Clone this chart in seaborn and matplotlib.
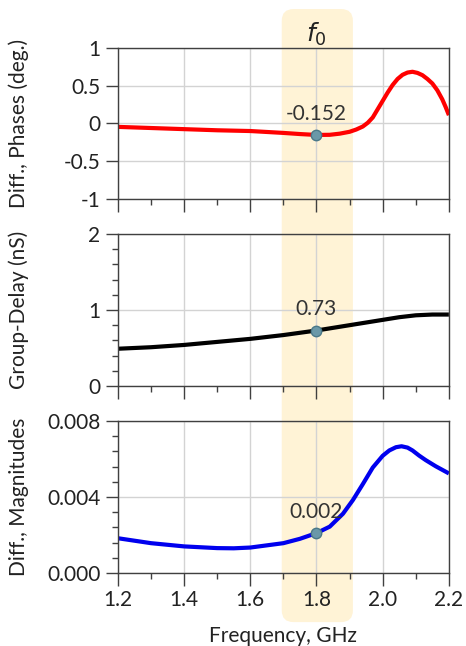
import numpy as np
import pandas as pd
import seaborn as sns
import matplotlib
matplotlib.use("Agg")
import matplotlib.pyplot as plt
from matplotlib.patches import FancyBboxPatch
from matplotlib.ticker import MultipleLocator, FormatStrFormatter, FuncFormatter

# values
freq_phase = [1.2, 1.3, 1.4, 1.5, 1.6, 1.7, 1.75, 1.8, 1.84, 1.87, 1.90, 1.92, 1.94, 1.955, 1.97, 1.985,
              2.0, 2.015, 2.03, 2.045, 2.06, 2.075, 2.09, 2.105, 2.12, 2.135, 2.15, 2.165, 2.18, 2.19, 2.2]
phase = [-0.045, -0.06, -0.075, -0.09, -0.10, -0.125, -0.14, -0.152, -0.15, -0.135, -0.11, -0.08, -0.04, 0.01, 0.08, 0.19,
         0.30, 0.41, 0.51, 0.59, 0.645, 0.675, 0.685, 0.67, 0.64, 0.59, 0.53, 0.44, 0.32, 0.22, 0.11]

freq_delay = [1.2, 1.3, 1.4, 1.5, 1.6, 1.7, 1.8, 1.9, 2.0, 2.05, 2.1, 2.15, 2.2]
delay = [0.49, 0.51, 0.54, 0.58, 0.62, 0.67, 0.73, 0.80, 0.87, 0.905, 0.93, 0.94, 0.94]

freq_mag = [1.2, 1.3, 1.4, 1.5, 1.55, 1.6, 1.7, 1.75, 1.8, 1.84, 1.88, 1.91, 1.94, 1.97, 2.0, 2.02,
            2.04, 2.057, 2.075, 2.09, 2.11, 2.13, 2.16, 2.2]
mag = [0.00183, 0.00157, 0.0014, 0.00131, 0.0013, 0.00134, 0.00157, 0.0018, 0.0021, 0.00244, 0.00312, 0.00384, 0.00468, 0.00555,
       0.00617, 0.00645, 0.00662, 0.00667, 0.00660, 0.00645, 0.00618, 0.00594, 0.00562, 0.00524]

f0 = 1.8
marker_vals = [-0.152, 0.73, 0.0021]
marker_texts = ["-0.152", "0.73", "0.002"]
band = (1.695, 1.91)

sns.set_style("ticks")
plt.rcParams["font.family"] = ["Lato", "DejaVu Sans"]
plt.rcParams["axes.unicode_minus"] = False

fig = plt.figure(figsize=(4.66, 6.46), dpi=100)
fig.patch.set_facecolor("white")
L, W = 0.253, 0.7103
ax1 = fig.add_axes([L, 0.692, W, 0.2337])
ax2 = fig.add_axes([L, 0.4025, W, 0.2353])
ax3 = fig.add_axes([L, 0.113, W, 0.2353])

df1 = pd.DataFrame({"f": freq_phase, "v": phase})
df2 = pd.DataFrame({"f": freq_delay, "v": delay})
df3 = pd.DataFrame({"f": freq_mag, "v": mag})

kw = dict(lw=3, solid_joinstyle="round", solid_capstyle="butt")
sns.lineplot(data=df1, x="f", y="v", ax=ax1, color="#ff0000", **kw)
sns.lineplot(data=df2, x="f", y="v", ax=ax2, color="#000000", **kw)
sns.lineplot(data=df3, x="f", y="v", ax=ax3, color="#0000ee", **kw)

ax1.set_ylim(-1, 1)
ax1.yaxis.set_major_locator(MultipleLocator(0.5))
ax1.yaxis.set_major_formatter(FuncFormatter(lambda v, p: f"{v:g}"))
ax2.set_ylim(0, 2)
ax2.yaxis.set_major_locator(MultipleLocator(1))
ax2.yaxis.set_minor_locator(MultipleLocator(0.2))
ax3.set_ylim(0, 0.008)
ax3.yaxis.set_major_locator(MultipleLocator(0.004))
ax3.yaxis.set_minor_locator(MultipleLocator(0.0008))
ax3.yaxis.set_major_formatter(FormatStrFormatter("%.3f"))

fs = 15
labels = ["Diff., Phases (deg.)", "Group-Delay (nS)", "Diff., Magnitudes"]
for ax, lab, yv, txt in zip([ax1, ax2, ax3], labels, marker_vals, marker_texts):
    ax.set_facecolor("none")
    ax.set_xlim(1.2, 2.2)
    ax.xaxis.set_major_locator(MultipleLocator(0.2))
    ax.xaxis.set_minor_locator(MultipleLocator(0.1))
    ax.grid(True, which="major", color="#d3d3d3", lw=1)
    ax.tick_params(which="major", direction="out", length=9, width=1, color="#404040",
                   labelsize=fs, labelcolor="#222222")
    ax.tick_params(which="minor", direction="out", length=4.5, width=1, color="#404040")
    for s in ax.spines.values():
        s.set_color("#404040")
        s.set_linewidth(1)
    ax.set_xlabel("")
    ax.set_ylabel(lab, fontsize=fs, color="#222222")
    ax.yaxis.set_label_coords(-0.27, 0.5)
    ax.plot([f0], [yv], "o", ms=7.5, color="#6a98a8", mec="#4a7888", mew=1, zorder=5)
    ax.annotate(txt, (f0, yv), xytext=(0, 8), textcoords="offset points",
                ha="center", va="bottom", fontsize=fs, color="#333333")

ax1.tick_params(axis="x", labelbottom=False)
ax2.tick_params(axis="x", labelbottom=False)
ax3.set_xlabel("Frequency, GHz", fontsize=fs, color="#222222", labelpad=11)
ax3.xaxis.set_major_formatter(FormatStrFormatter("%.1f"))

# highlighted band behind the axes
fig.canvas.draw()
inv = fig.transFigure.inverted()
x0 = inv.transform(ax3.transData.transform((band[0], 0)))[0]
x1 = inv.transform(ax3.transData.transform((band[1], 0)))[0]
y0, y1 = 0.037, 0.986
patch = FancyBboxPatch((x0, y0), x1 - x0, y1 - y0, boxstyle="round,pad=0,rounding_size=0.025",
                       transform=fig.transFigure, facecolor="#fff3d6", edgecolor="none",
                       zorder=-1, mutation_aspect=466 / 646)
fig.patches.append(patch)
xc = inv.transform(ax3.transData.transform((f0, 0)))[0]
fig.text(xc, 0.947, r"$f_0$", ha="center", va="center", fontsize=18, color="#222222")

fig.savefig("out.png", dpi=100, facecolor="white")
